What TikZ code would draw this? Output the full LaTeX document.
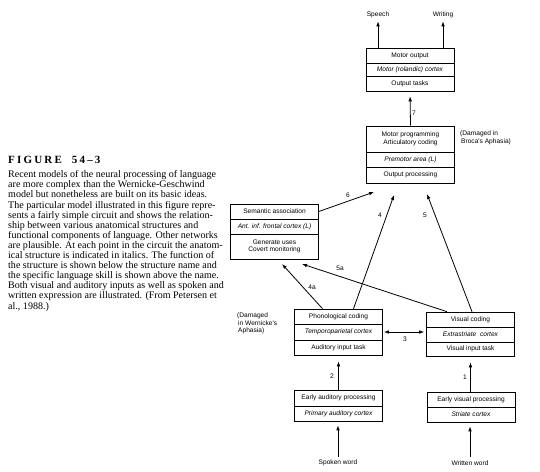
\documentclass[tikz,border=0pt]{standalone}
\usepackage{fontspec}
\setmainfont{Liberation Serif}
\newfontfamily\diagfont{Liberation Sans}
\usetikzlibrary{arrows.meta}

\tikzset{
    row/.style={draw, line width=0.6pt, minimum width=88pt, minimum height=15pt, inner sep=1pt, align=center, font=\diagfont\fontsize{6.6}{7.6}\selectfont},
    itrow/.style={row, font=\diagfont\itshape\fontsize{6.6}{7.6}\selectfont},
    lbl/.style={inner sep=0pt, font=\diagfont\fontsize{6.6}{7.6}\selectfont},
    note/.style={inner sep=0pt, align=left, anchor=north west, font=\diagfont\fontsize{6.6}{7.6}\selectfont},
    arr/.style={line width=0.8pt, -{Latex[length=5pt,width=3.6pt]}},
}

\begin{document}
\begin{tikzpicture}[x=1pt, y=-1pt]
        \useasboundingbox (0,0) rectangle (540,471);

        % Caption
        \node[anchor=north west, inner sep=0pt, font=\fontsize{11}{12}\selectfont\bfseries\addfontfeature{LetterSpace=20}] (figno) at (8,156.5) {FIGURE\ \ 54--3};
        \node[anchor=north west, inner sep=0pt, align=left, font=\fontsize{10.05}{10.1}\selectfont] (caption) at (8,170.5) {Recent models of the neural processing of language\\
are more complex than the Wernicke-Geschwind\\
model but nonetheless are built on its basic ideas.\\
The particular model illustrated in this figure repre-\\
sents a fairly simple circuit and shows the relation-\\
ship between various anatomical structures and\\
functional components of language. Other networks\\
are plausible. At each point in the circuit the anatom-\\
ical structure is indicated in italics. The function of\\
the structure is shown below the structure name and\\
the specific language skill is shown above the name.\\
Both visual and auditory inputs as well as spoken and\\
written expression are illustrated. (From Petersen et\\
al., 1988.)};

        % Motor output
        \node[row] (mo1) at (410,55.5) {Motor output};
        \node[itrow, minimum height=13pt] (mo2) at (410,69.5) {Motor (rolandic) cortex};
        \node[row] (mo3) at (410,83.5) {Output tasks};

        % Motor programming
        \node[row, minimum height=26pt] (mp1) at (410.5,139) {Motor programming\\Articulatory coding};
        \node[itrow] (mp2) at (410.5,159.5) {Premotor area (L)};
        \node[row, minimum height=16pt] (mp3) at (410.5,175) {Output processing};
        \node[note] (broca) at (460,131) {(Damaged in\\\hspace{1pt}Broca's Aphasia)};

        % Semantic association
        \node[row] (sa1) at (274.5,211.5) {Semantic association};
        \node[itrow] (sa2) at (274.5,226.5) {Ant. inf. frontal cortex (L)};
        \node[row, minimum height=25pt] (sa3) at (274.5,246.5) {Generate uses\\Covert monitoring};

        % Phonological coding
        \node[row] (ph1) at (338.5,316.5) {Phonological coding};
        \node[itrow, minimum height=16pt] (ph2) at (338.5,332) {Temporoparietal cortex};
        \node[row] (ph3) at (338.5,347.5) {Auditory input task};
        \node[note] (wernicke) at (237,312.5) {(Damaged\\\hspace{1pt}in Wernicke's\\\hspace{1pt}Aphasia)};

        % Visual coding
        \node[row] (vi1) at (470.5,319.5) {Visual coding};
        \node[itrow] (vi2) at (470.5,334.5) {Extrastriate\ \ cortex};
        \node[row, minimum height=14pt] (vi3) at (470.5,349) {Visual input task};

        % Early processing
        \node[row, minimum height=16pt] (ea1) at (338.5,398) {Early auditory processing};
        \node[itrow] (ea2) at (338.5,413.5) {Primary auditory cortex};
        \node[row] (ev1) at (471,399.5) {Early visual processing};
        \node[itrow] (ev2) at (471,414.5) {Striate cortex};

        % Inputs and outputs
        \node[lbl] (speech) at (378,15) {Speech};
        \node[lbl] (writing) at (443,15) {Writing};
        \node[lbl] (spoken) at (338,463) {Spoken word};
        \node[lbl] (written) at (470,463) {Written word};

        % Free arrow ends
        \coordinate (t6) at (374,192);
        \coordinate (t4) at (394,195);
        \coordinate (t5) at (427,194);
        \coordinate (t4a) at (282,264);
        \coordinate (t5a) at (302,264);

        % Arrows
        \draw[arr] (mo1.north -| speech) -- ([yshift=-3pt]speech.south);
        \draw[arr] (mo1.north -| writing) -- ([yshift=-3pt]writing.south);
        \draw[arr, shorten >=5pt] (mp1.north) -- (mo3.south);
        \draw[arr] (sa1.east) -- (t6);
        \draw[arr] ([xshift=15pt]ph1.north) -- (t4);
        \draw[arr] ([xshift=-16pt]ph1.north) -- (t4a);
        \draw[arr] ([xshift=1.5pt]vi1.north) -- (t5);
        \draw[arr] ([xshift=-23.5pt]vi1.north) -- (t5a);
        \draw[line width=0.8pt, {Latex[length=5pt,width=3.6pt]}-{Latex[length=5pt,width=3.6pt]}, shorten <=1pt, shorten >=2pt] (ph2.east) -- (ph2.east -| vi2.west);
        \draw[arr, shorten >=6pt] (ea1.north) -- (ph3.south);
        \draw[arr, shorten >=6pt] (ev1.north -| vi3.south) -- (vi3.south);
        \draw[arr, shorten >=4pt] ([yshift=3pt]spoken.north) -- (spoken.north |- ea2.south);
        \draw[arr, shorten >=4pt] ([yshift=3pt]written.north) -- (written.north |- ev2.south);

        % Connector labels
        \node[lbl] (n7) at (414,113) {7};
        \node[lbl] (n6) at (348,195) {6};
        \node[lbl] (n4) at (380,215) {4};
        \node[lbl] (n5) at (425,215) {5};
        \node[lbl] (n5a) at (340,268) {5a};
        \node[lbl] (n4a) at (312,287) {4a};
        \node[lbl] (n3) at (405,339) {3};
        \node[lbl] (n2) at (332,376) {2};
        \node[lbl] (n1) at (465,377) {1};
    \end{tikzpicture}
\end{document}
